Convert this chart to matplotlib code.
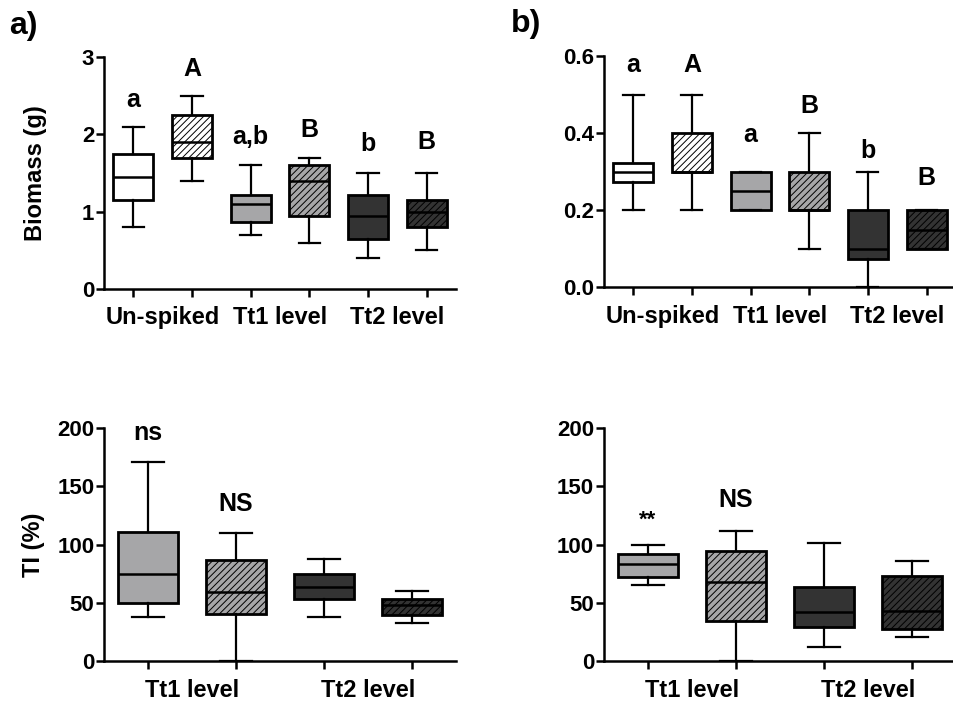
import numpy as np
import matplotlib
matplotlib.use('Agg')
import matplotlib.pyplot as plt

plt.rcParams['font.family'] = ['Liberation Sans', 'DejaVu Sans']
plt.rcParams['font.weight'] = 'bold'
plt.rcParams['hatch.linewidth'] = 0.7

# box summaries: whislo, q1, med, q3, whishi
# panel a) biomass top
a_lo  = [0.80, 1.40, 0.70, 0.60, 0.40, 0.50]
a_q1  = [1.15, 1.70, 0.87, 0.95, 0.65, 0.80]
a_med = [1.45, 1.90, 1.10, 1.40, 0.95, 1.00]
a_q3  = [1.75, 2.25, 1.22, 1.60, 1.22, 1.15]
a_hi  = [2.10, 2.50, 1.60, 1.70, 1.50, 1.50]
a_letters = ['a', 'A', 'a,b', 'B', 'b', 'B']
a_letter_y = [2.44, 2.85, 1.97, 2.06, 1.87, 1.90]

# panel b) biomass top
b_lo  = [0.20, 0.20, 0.20, 0.10, 0.00, 0.10]
b_q1  = [0.273, 0.30, 0.20, 0.20, 0.073, 0.10]
b_med = [0.30, 0.30, 0.25, 0.20, 0.10, 0.15]
b_q3  = [0.324, 0.40, 0.30, 0.30, 0.20, 0.20]
b_hi  = [0.50, 0.50, 0.30, 0.40, 0.30, 0.20]
b_letters = ['a', 'A', 'a', 'B', 'b', 'B']
b_letter_y = [0.577, 0.577, 0.395, 0.47, 0.354, 0.283]

# panel c) TI left
c_lo  = [37.5, 0.0, 37.8, 33.0]
c_q1  = [50.1, 40.7, 53.0, 39.5]
c_med = [74.5, 59.0, 63.3, 47.9]
c_q3  = [110.6, 86.5, 75.0, 53.3]
c_hi  = [171.0, 109.5, 87.7, 60.2]
c_letters = ['ns', 'NS', '', '']
c_letter_y = [195.7, 134.7, 0, 0]

# panel d) TI right
d_lo  = [65.0, 0.0, 11.7, 20.3]
d_q1  = [72.2, 34.4, 29.0, 27.5]
d_med = [83.4, 68.2, 42.0, 43.3]
d_q3  = [92.0, 94.6, 63.3, 73.0]
d_hi  = [99.7, 111.7, 100.9, 86.2]
d_letters = ['**', 'NS', '', '']
d_letter_y = [121.0, 138.0, 0, 0]

cats_top = ['Un-spiked', 'Tt1 level', 'Tt2 level']
cats_bot = ['Tt1 level', 'Tt2 level']

white = '#ffffff'
grey = '#a6a6a8'
dark = '#333333'
fills_top = [white, white, grey, grey, dark, dark]
hatch_top = [None, '/////', None, '/////', None, '/////']
fills_bot = [grey, grey, dark, dark]
hatch_bot = [None, '/////', None, '/////']


def draw_panel(ax, lo, q1, med, q3, hi, fills, hatches, letters, letter_y,
               ylim, yticks, yticklabels, cats, letter_size=18):
    n = len(med)
    stats = []
    for i in range(n):
        stats.append(dict(whislo=lo[i], q1=q1[i], med=med[i], q3=q3[i],
                          whishi=hi[i], fliers=[]))
    pos = np.arange(1, n + 1)
    bp = ax.bxp(stats, positions=pos, widths=0.68, patch_artist=True,
                showfliers=False, capwidths=0.36,
                boxprops=dict(linewidth=2.0, edgecolor='black'),
                medianprops=dict(color='black', linewidth=1.8),
                whiskerprops=dict(color='black', linewidth=1.6),
                capprops=dict(color='black', linewidth=1.6))
    for box, fc, h in zip(bp['boxes'], fills, hatches):
        box.set_facecolor(fc)
        if h:
            box.set_hatch(h)
    for x, t, y in zip(pos, letters, letter_y):
        if t:
            fs = letter_size if t != '**' else letter_size - 2
            ax.text(x, y, t, ha='center', va='center', fontsize=fs,
                    fontweight='bold')
    ax.set_xlim(0.5, n + 0.5)
    ax.set_ylim(*ylim)
    ax.set_yticks(yticks)
    ax.set_yticklabels(yticklabels)
    ax.set_xticks(pos)
    ax.set_xticklabels([''] * n)
    for s in ['top', 'right']:
        ax.spines[s].set_visible(False)
    for s in ['left', 'bottom']:
        ax.spines[s].set_linewidth(1.8)
    ax.tick_params(direction='out', length=6, width=1.8, labelsize=16,
                   pad=1)
    # category labels centred between each pair of boxes
    for k, c in enumerate(cats):
        ax.text(2 * k + 1.5, -0.075 * (ylim[1] - ylim[0]), c,
                ha='center', va='top', fontsize=17, fontweight='bold',
                transform=ax.transData, clip_on=False)


fig = plt.figure(figsize=(9.54, 7.04), dpi=100)

ax_a = fig.add_axes([0.109, 0.5895, 0.369, 0.3295])
ax_b = fig.add_axes([0.633, 0.592, 0.369, 0.328])
ax_c = fig.add_axes([0.109, 0.061, 0.369, 0.331])
ax_d = fig.add_axes([0.633, 0.061, 0.369, 0.331])

draw_panel(ax_a, a_lo, a_q1, a_med, a_q3, a_hi, fills_top, hatch_top,
           a_letters, a_letter_y, (0, 3), [0, 1, 2, 3],
           ['0', '1', '2', '3'], cats_top)
draw_panel(ax_b, b_lo, b_q1, b_med, b_q3, b_hi, fills_top, hatch_top,
           b_letters, b_letter_y, (0, 0.6), [0, 0.2, 0.4, 0.6],
           ['0.0', '0.2', '0.4', '0.6'], cats_top)
draw_panel(ax_c, c_lo, c_q1, c_med, c_q3, c_hi, fills_bot, hatch_bot,
           c_letters, c_letter_y, (0, 200), [0, 50, 100, 150, 200],
           ['0', '50', '100', '150', '200'], cats_bot)
draw_panel(ax_d, d_lo, d_q1, d_med, d_q3, d_hi, fills_bot, hatch_bot,
           d_letters, d_letter_y, (0, 200), [0, 50, 100, 150, 200],
           ['0', '50', '100', '150', '200'], cats_bot)

ax_a.set_ylabel('Biomass (g)', fontsize=17, fontweight='bold', labelpad=25)
ax_c.set_ylabel('TI (%)', fontsize=17, fontweight='bold', labelpad=9)

fig.text(0.010, 0.963, 'a)', fontsize=23, fontweight='bold', va='center')
fig.text(0.535, 0.966, 'b)', fontsize=23, fontweight='bold', va='center')

fig.savefig('out.png', dpi=100)
